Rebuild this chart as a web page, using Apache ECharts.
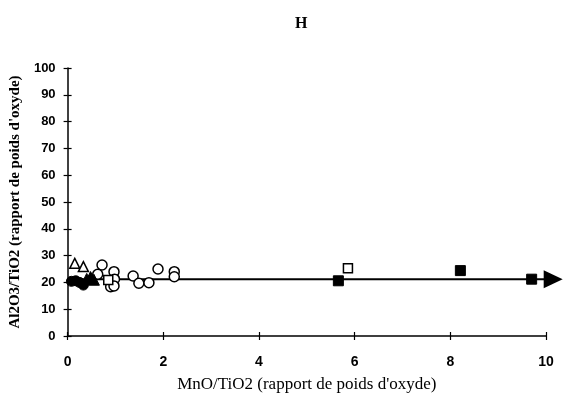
<!DOCTYPE html>
<html><head><meta charset="utf-8">
<script src="https://cdn.jsdelivr.net/npm/echarts@6/dist/echarts.min.js"></script>
<style>html,body{margin:0;padding:0;background:#fff}#c{width:565px;height:399px}</style>
</head><body><div id="c"></div>
<script>
const xTicks = [0, 2, 4, 6, 8, 10];
const yTicks = [0, 10, 20, 30, 40, 50, 60, 70, 80, 90, 100];
const openCircles = [[0.72,26.5],[0.63,23.0],[0.97,24.0],[0.98,21.2],[0.90,18.4],[0.97,18.7],[1.37,22.4],[1.49,19.7],[1.70,19.9],[1.89,25.0],[2.23,24.0],[2.23,22.1]];
const openTriangles = [[0.15,27.1],[0.33,25.9]];
const filledCircles = [[0.08,20.4],[0.17,20.6],[0.25,20.0],[0.33,19.0]];
const filledTriangles = [[0.40,21.3],[0.48,22.0],[0.55,21.0]];
const openSquares = [[0.85,20.9],[5.86,25.3]];
const filledSquares = [[5.66,20.6],[8.21,24.4],[9.70,21.2]];
const trendLine = [[0,21.2],[10.0,21.2]];
const arrowHead = [[10.15,21.2]];

const chart = echarts.init(document.getElementById('c'));
const serif = 'Liberation Serif';
const sans = 'Liberation Sans';
function sc(name, data, symbol, size, filled){
  return {type:'scatter', name, data, symbol, symbolSize:size, clip:false,
    itemStyle: filled ? {color:'#000', borderColor:'#000', borderWidth:1, opacity:1} : {color:'#fff', borderColor:'#000', borderWidth:1.5, opacity:1},
    z:3};
}
chart.setOption({
  animation:false,
  backgroundColor:'#fff',
  title:{text:'H', left:290, top:11, textStyle:{fontFamily:serif, fontWeight:'bold', fontSize:16, color:'#000'}},
  grid:[{left:67, right:19, top:68, bottom:63}],
  xAxis:[{type:'value', min:0, max:10, interval:2,
    name:'MnO/TiO2 (rapport de poids d\'oxyde)', nameLocation:'middle', nameGap:40,
    nameTextStyle:{fontFamily:serif, fontSize:17, fontWeight:'normal', color:'#000'},
    axisLine:{show:true, onZero:false, lineStyle:{color:'#000', width:1.5}},
    axisTick:{show:true, length:4, lineStyle:{color:'#000', width:1.2}},
    axisLabel:{fontFamily:sans, fontWeight:'bold', fontSize:14, color:'#000', margin:19},
    splitLine:{show:false}},
   {type:'value', min:0, max:10, interval:2, position:'bottom',
    axisLine:{show:false}, axisTick:{show:true, inside:true, length:4, lineStyle:{color:'#000', width:1.2}},
    axisLabel:{show:false}, splitLine:{show:false}}],
  yAxis:[{type:'value', min:0, max:100, interval:10,
    name:'Al2O3/TiO2 (rapport de poids d\'oxyde)', nameLocation:'middle', nameGap:44, nameRotate:90,
    nameTextStyle:{fontFamily:serif, fontSize:15, fontWeight:'bold', color:'#000'},
    axisLine:{show:true, onZero:false, lineStyle:{color:'#000', width:1.5}},
    axisTick:{show:true, length:4, lineStyle:{color:'#000', width:1.2}},
    axisLabel:{fontFamily:sans, fontWeight:'bold', fontSize:13, color:'#000', margin:12},
    splitLine:{show:false}},
   {type:'value', min:0, max:100, interval:10, position:'left',
    axisLine:{show:false}, axisTick:{show:true, inside:true, length:4, lineStyle:{color:'#000', width:1.2}},
    axisLabel:{show:false}, splitLine:{show:false}}],
  series:[
    {type:'line', data:trendLine, symbol:'none', lineStyle:{color:'#000', width:2}, z:2, clip:false},
    {type:'scatter', data:arrowHead, symbol:'triangle', symbolRotate:-90, symbolSize:[18,19], clip:false,
      itemStyle:{color:'#000', opacity:1}, z:2},
    sc('oc', openCircles, 'circle', 10, false),
    sc('ot', openTriangles, 'triangle', 10, false),
    sc('os', openSquares, 'rect', 9, false),
    sc('ft', filledTriangles, 'triangle', 11, true),
    sc('fc', filledCircles, 'circle', 10, true),
    sc('fs', filledSquares, 'rect', 10, true)
  ]
});
</script></body></html>
